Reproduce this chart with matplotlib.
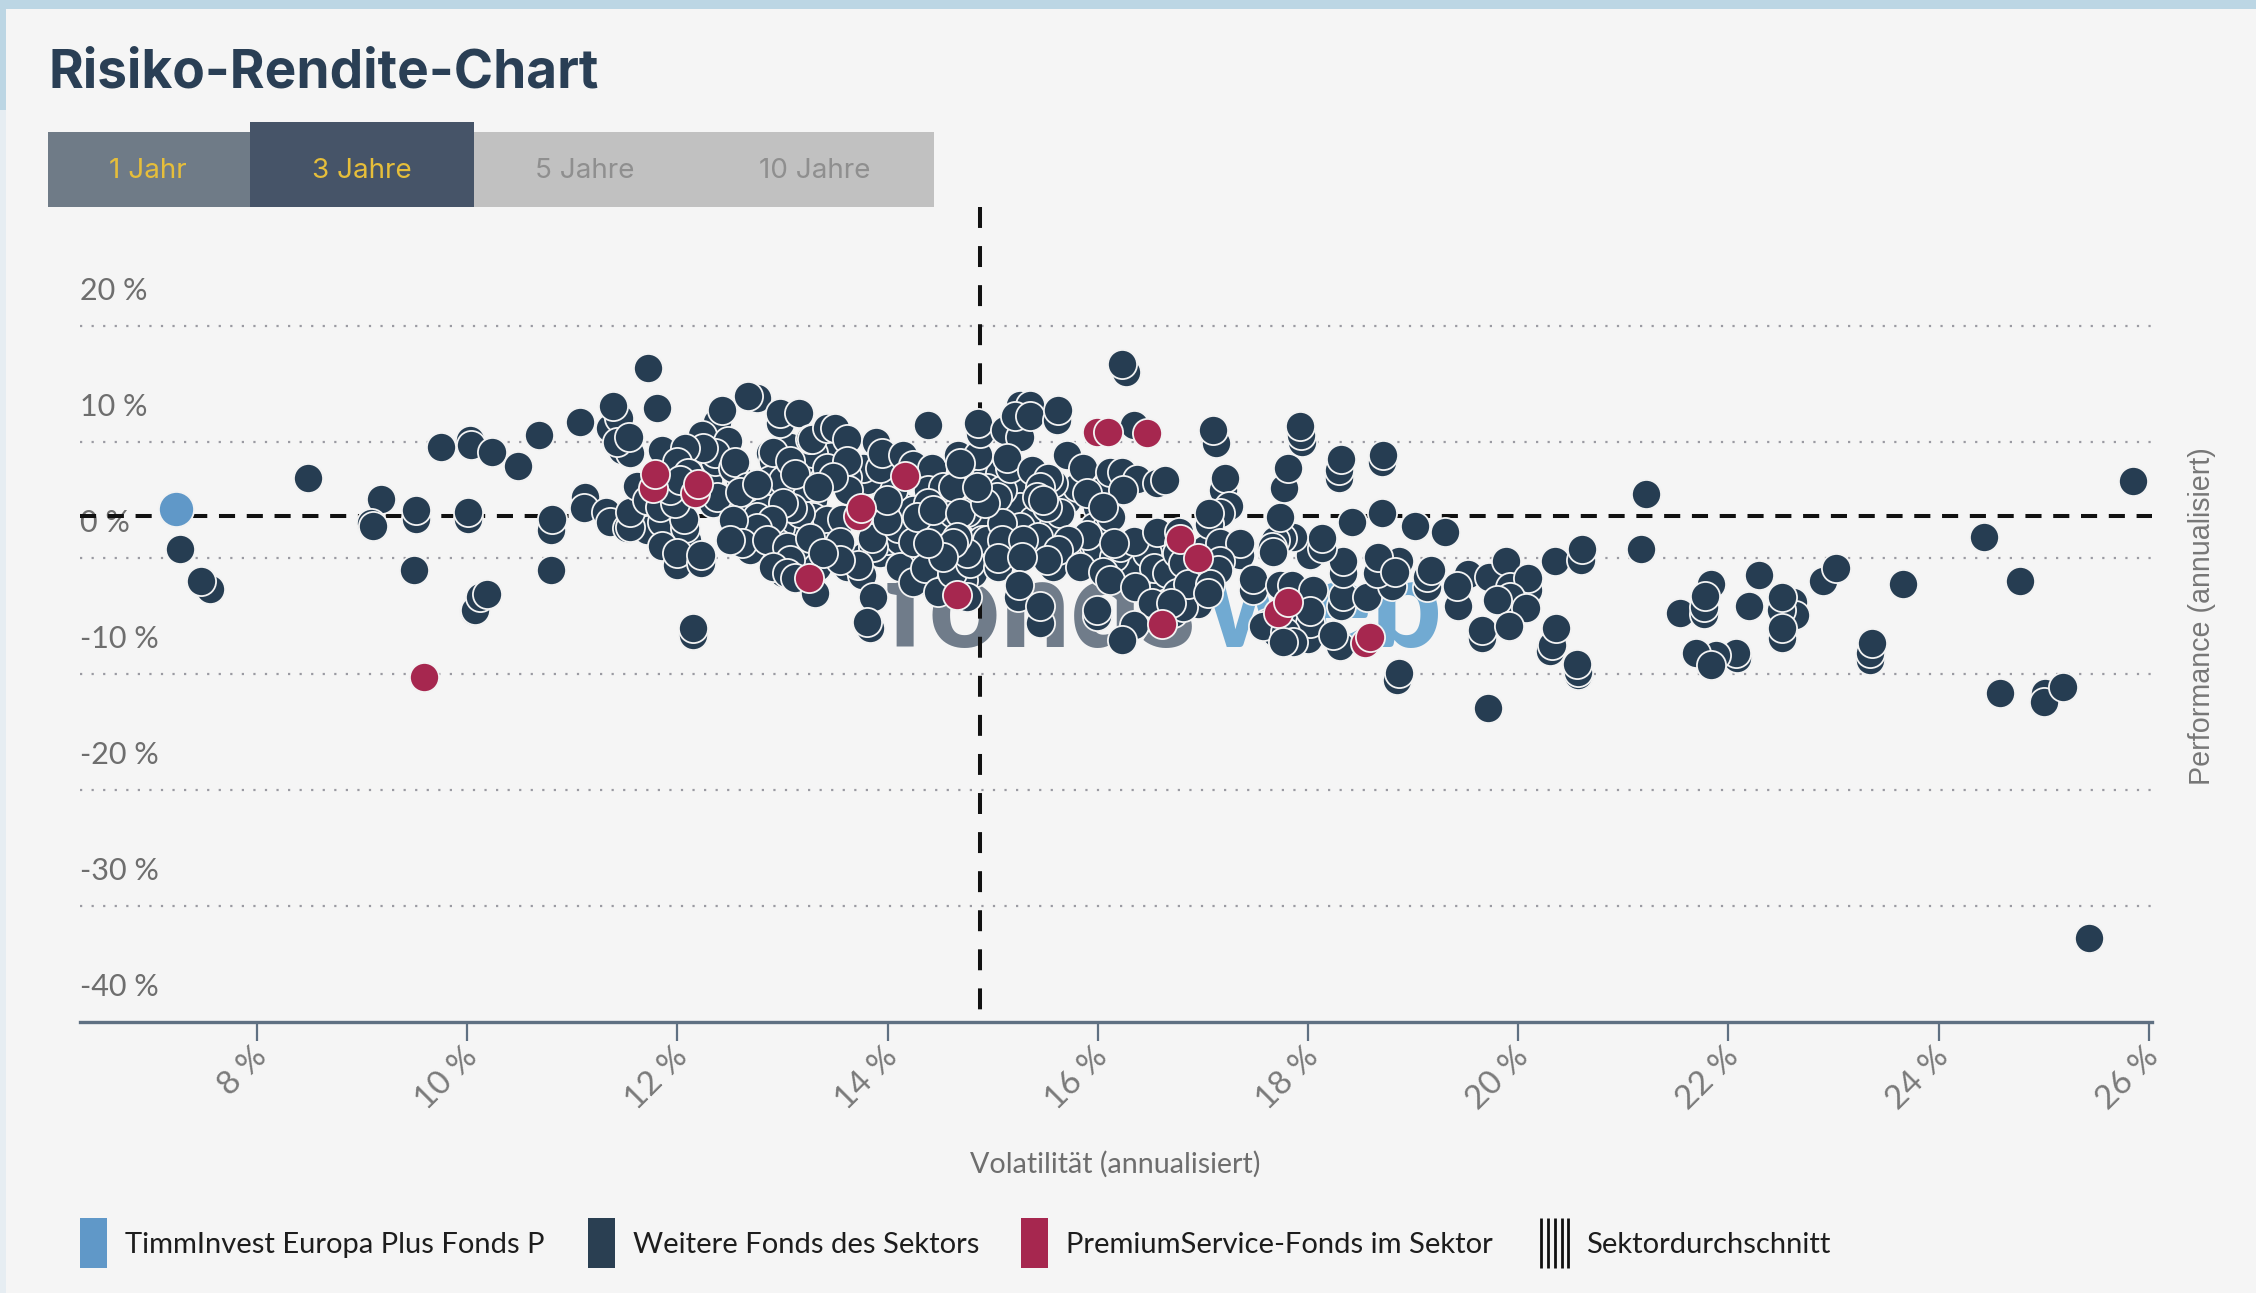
import numpy as np
import matplotlib
matplotlib.use('Agg')
import matplotlib.pyplot as plt
from matplotlib.patches import Rectangle
from matplotlib.transforms import ScaledTranslation

W, H = 2256, 1293

# Values: volatility %, performance %
vol_fund = [7.23]
perf_fund = [4.2]

vol_premium = [9.59, 11.77, 11.79, 12.17, 12.2, 13.25, 13.72, 13.75, 14.17, 14.66, 15.99, 16.1, 16.47,
               16.61, 16.78, 16.95, 17.71, 17.81, 18.54, 18.59]
perf_premium = [-10.3, 6.0, 7.2, 5.6, 6.4, -1.7, 3.6, 4.3, 7.1, -3.2, 10.9, 10.9, 10.8,
                -5.7, 1.6, 0.0, -4.7, -3.8, -7.3, -6.8]

# inner part of the dense cluster, sits underneath the rest
vol_under = [13.17, 13.29, 13.17, 13.29, 13.42, 13.1, 12.98, 12.85, 12.76, 12.95, 13.17, 13.42, 13.33, 12.95,
             13.0, 13.61, 13.77, 13.93, 13.99, 14.12, 14.15, 14.05, 13.93, 13.8, 13.77, 13.93, 13.61, 13.17,
             12.98, 12.85, 12.88, 13.07, 13.48, 13.42, 14.31, 14.43, 14.56, 14.5, 14.62, 14.88, 14.9, 14.88,
             14.81, 14.72, 14.95, 14.53, 14.12, 14.18, 14.95, 15.07, 15.23, 15.26, 15.38, 15.26, 15.57, 15.71,
             15.8, 15.57, 15.64, 15.99, 16.05, 15.96, 16.09, 15.83, 15.99, 15.38, 15.52, 15.71, 15.57, 16.31,
             16.15, 16.21, 16.59, 16.68, 16.47, 16.72, 16.81, 16.88, 16.59, 16.66, 11.67, 11.77, 11.96, 11.96,
             11.83, 12.09, 11.71, 11.98, 12.22, 12.29, 12.36, 12.6, 12.47, 12.66, 12.53, 12.81, 12.76, 12.95,
             13.17, 13.23, 13.29, 12.91, 12.88, 13.0, 13.17, 13.29, 16.95, 17.0, 16.98, 16.95, 17.02, 17.1,
             17.9, 17.95, 17.7, 17.9, 18.0]
perf_under = [5.0, 5.0, 3.3, 3.5, 3.3, 1.55, 2.7, 3.3, 1.8, 0.7, 0.4, 0.95, -0.8, -0.4,
              -1.3, -0.8, 0.1, 0.4, 1.55, 1.55, 4.4, 5.9, 6.5, 6.7, 7.8, 7.8, 7.0, 6.5,
              6.5, 5.9, 9.05, 9.6, 9.9, 9.05, 0.4, 1.55, 1.55, 3.3, 3.9, 3.5, 1.55, 0.4,
              -1.3, -1.9, 1.55, -1.3, -0.8, 3.3, 7.3, 7.3, 6.1, 4.4, 3.3, 2.7, 2.7, 5.0,
              6.1, 6.5, 3.9, 4.4, 5.9, 2.7, 2.7, 1.55, 0.95, 0.95, 0.7, 0.1, -0.8, -0.4,
              0.1, 0.95, 1.55, 0.1, 0.4, -1.6, 0.1, -3.0, -3.0, -3.9, 4.4, 4.1, 4.1, 1.8,
              1.8, 1.55, 2.4, 7.3, 7.6, 6.7, 8.4, 6.7, 4.4, 3.9, 3.9, 5.3, 3.5, 1.3,
              3.9, 6.1, 7.3, 8.4, 6.7, 6.7, 8.2, 9.05, -0.5, -1.5, -3.0, -4.0, 0.8, -1.2,
              -3.0, -5.5, -6.5, -5.9, -7.0]

# sparse left side
vol_left = [8.49, 7.27, 7.55, 7.47, 9.18, 9.08, 9.10, 9.51, 9.51, 9.49, 9.75, 10.03, 10.04, 10.24, 10.48,
            10.68, 10.01, 10.01, 10.06, 10.07, 10.12, 10.19, 10.80, 10.81, 10.80, 11.07, 11.12, 11.11, 11.32,
            11.36, 11.52, 11.55, 11.55]
perf_left = [6.9, 0.8, -2.7, -2.0, 5.1, 3.0, 2.8, 3.4, 4.1, -1.0, 9.6, 10.2, 9.7, 9.1, 7.9,
             10.6, 3.4, 4.0, -4.6, -4.5, -3.4, -3.1, 2.4, 3.4, -1.0, 11.7, 5.3, 4.3, 4.0,
             3.1, 2.6, 2.7, 4.0]

# cluster, 11.3 to 13.2 %
vol_a = [11.72, 11.36, 11.44, 11.39, 11.81, 11.47, 11.55, 11.43, 11.54, 11.85, 12.38, 12.42, 12.23, 12.48,
         12.36, 12.24, 12.07, 12.76, 12.67, 12.98, 12.98, 13.16, 13.26, 12.91, 13.07, 12.53, 12.55, 13.12,
         12.0, 12.10, 11.62, 12.34, 12.38, 12.66, 12.6, 12.76, 13.09, 13.0, 12.9, 12.76, 12.53, 12.69, 12.61,
         12.5, 12.85, 13.04, 13.26, 13.07, 12.91, 13.04, 13.12, 13.31, 11.85, 12.07, 12.06, 11.85, 12.0,
         12.0, 12.22, 12.22, 12.15, 12.15, 11.71, 11.83, 11.98, 11.93, 12.02]
perf_a = [16.4, 11.2, 12.1, 13.1, 12.9, 9.3, 9.05, 10.0, 10.4, 9.3, 11.7, 12.8, 10.6, 10.1,
          9.05, 9.5, 9.5, 13.8, 14.0, 11.6, 12.5, 12.5, 10.3, 9.1, 8.4, 7.8, 8.3, 7.2,
          8.3, 7.3, 6.2, 4.7, 5.3, 6.1, 5.7, 6.4, 4.3, 4.7, 3.3, 2.6, 3.3, 0.7, 1.3,
          1.55, 1.55, 0.95, 1.7, -0.2, -0.8, -1.3, -1.7, -3.0, 3.1, 2.6, 3.4, 1.0, -0.6,
          0.4, -0.4, 0.3, -6.6, -6.0, 5.0, 4.4, 4.7, 5.9, 6.7]

# cluster, 13.2 to 15.1 %
vol_b = [13.28, 13.42, 13.5, 13.61, 13.42, 13.61, 13.89, 13.95, 14.15, 14.24, 14.42, 13.62, 13.48, 13.34,
         13.57, 13.55, 13.86, 13.85, 13.76, 13.72, 13.55, 13.39, 13.86, 13.83, 13.8, 14.1, 14.24, 14.38,
         14.53, 14.62, 14.24, 14.38, 14.28, 14.43, 14.76, 14.69, 14.24, 14.36, 14.48, 14.61, 14.76, 14.78,
         14.76, 14.66, 14.62, 14.53, 14.38, 13.99, 13.99, 14.38, 14.76, 14.67, 14.86, 14.69, 14.88, 14.86,
         15.12, 14.95, 15.09, 15.04, 15.09, 15.09, 15.05, 15.05, 14.93, 14.85]
perf_b = [10.3, 11.2, 11.2, 10.3, 7.8, 8.4, 10.0, 9.05, 8.9, 8.0, 7.8, 5.9, 7.0, 6.1,
          3.4, 1.4, 0.95, 1.7, -1.5, -0.6, -0.2, 0.4, -3.4, -6.0, -5.5, 2.6, 1.4, 5.9,
          6.1, 6.1, 4.1, 4.7, 3.5, 4.1, 4.0, 3.9, -2.1, -0.9, -2.9, -1.3, -3.4, -0.4,
          0.4, 1.8, 1.3, 0.1, 1.3, 3.3, 5.0, 11.5, 8.7, 8.9, 8.9, 8.2, 10.8, 11.6,
          11.0, 6.0, 5.9, 5.3, 3.0, 1.55, -0.8, 0.0, 4.7, 6.1]

# cluster, 15.1 to 16.9 %
vol_c = [15.26, 15.26, 15.35, 15.21, 15.35, 15.61, 15.62, 15.16, 15.14, 15.37, 15.53, 15.45, 15.42, 15.52,
         15.48, 15.71, 15.86, 15.9, 16.12, 16.23, 16.37, 16.56, 16.64, 16.13, 16.24, 16.05, 15.9, 15.43,
         15.72, 15.62, 15.52, 15.29, 15.28, 15.83, 16.05, 16.12, 16.34, 16.56, 16.53, 16.35, 16.15, 16.52,
         16.34, 16.23, 15.99, 15.99, 15.24, 15.25, 15.45, 15.45, 16.34, 16.27, 16.23, 16.66, 16.75, 16.88,
         16.72, 16.81, 16.77, 16.77, 16.75, 16.81, 16.86, 16.7]
perf_c = [10.4, 13.2, 13.2, 12.2, 12.2, 11.9, 12.8, 7.8, 8.6, 7.6, 6.9, 6.1, 5.3, 4.4,
          5.0, 8.9, 7.8, 5.6, 7.4, 7.4, 6.8, 6.5, 6.7, 3.5, 5.9, 4.4, 2.0, 1.8,
          1.55, 0.7, -0.2, 1.55, 0.1, -0.8, -1.2, -1.9, 1.5, 2.2, -0.9, -2.5, 1.3, -3.9,
          -5.8, -7.1, -5.0, -4.5, -3.4, -2.3, -5.6, -4.1, 11.5, 16.0, 16.7, -1.3, -3.0, -1.9,
          -4.7, -4.2, 2.2, 1.3, 0.4, -0.4, -2.2, -3.9]

# 17 to 20.7 %
vol_d = [17.12, 17.1, 17.19, 17.21, 17.25, 17.16, 17.06, 17.06, 17.16, 17.35, 17.35, 17.16, 17.14, 17.07,
         17.05, 17.48, 17.48, 17.73, 17.85, 18.05, 18.02, 18.02, 17.61, 17.57, 17.78, 17.86, 17.76, 18.3,
         18.24, 18.31, 18.33, 18.56, 18.8, 19.13, 19.13, 19.17, 18.33, 18.33, 18.66, 18.87, 18.67, 18.83,
         18.02, 18.13, 18.13, 17.86, 17.75, 17.69, 17.66, 17.67, 17.73, 17.77, 17.81, 18.29, 18.29, 18.31,
         17.94, 17.93, 17.92, 18.7, 18.71, 18.42, 18.7, 19.02, 19.3, 19.52, 19.43, 19.42, 19.72, 19.88,
         19.92, 20.09, 20.09, 19.92, 19.8, 20.07, 19.66, 19.66, 19.91, 19.71, 18.85, 18.87, 20.3, 20.32,
         20.36, 20.57, 20.57, 20.56, 20.35, 20.6, 20.61]
perf_d = [9.9, 11.0, 5.9, 6.9, 4.5, 3.9, 2.9, 3.9, 1.3, 0.3, 1.3, -0.3, -1.0, -2.2,
          -3.0, -2.8, -1.8, -2.3, -2.3, -2.8, -5.6, -4.6, -5.6, -5.9, -6.4, -7.2, -7.2, -7.6,
          -6.6, -4.1, -3.3, -3.4, -2.4, -2.5, -1.6, -1.0, -1.3, -0.3, -1.3, -0.3, 0.1, -1.2,
          0.3, 0.9, 1.7, 1.8, 1.7, 1.55, 0.95, 0.5, 3.5, 6.0, 7.8, 6.9, 7.6, 8.5,
          10.0, 10.6, 11.4, 8.3, 8.9, 3.1, 3.9, 2.8, 2.2, -1.4, -4.1, -2.4, -1.6, -0.3,
          -2.5, -2.8, -1.7, -3.4, -3.6, -4.3, -6.9, -6.2, -5.9, -12.9, -10.5, -9.9, -8.0, -7.5,
          -6.0, -10.1, -9.8, -9.1, -0.3, -0.2, 0.8]

# sparse right side
vol_right = [21.22, 21.17, 21.54, 21.83, 21.77, 21.77, 21.78, 22.29, 22.2, 22.61, 22.63, 22.5, 22.51, 22.51,
             22.51, 22.9, 23.02, 23.66, 23.35, 23.35, 23.37, 22.08, 22.07, 21.88, 21.69, 21.83, 24.43, 24.77,
             25.85, 24.58, 25.01, 25.0, 25.18, 25.43]
perf_right = [5.5, 0.8, -4.7, -2.2, -4.8, -4.2, -3.3, -1.5, -4.1, -3.8, -4.9, -4.5, -6.9, -6.0,
              -3.4, -2.0, -0.9, -2.2, -8.8, -8.2, -7.3, -8.6, -8.2, -8.4, -8.2, -9.2, 1.8, -2.0,
              6.6, -11.6, -11.6, -12.4, -11.1, -32.8]

y_ticks = [20, 10, 0, -10, -20, -30]
y_tick_labels = ['20 %', '10 %', '0 %', '-10 %', '-20 %', '-30 %']
x_ticks = [8, 10, 12, 14, 16, 18, 20, 22, 24, 26]
tab_labels = ['1 Jahr', '3 Jahre', '5 Jahre', '10 Jahre']
sector_vol = 14.88
sector_perf = 3.6

vol_other = vol_under + vol_left + vol_a + vol_b + vol_c + vol_d + vol_right
perf_other = perf_under + perf_left + perf_a + perf_b + perf_c + perf_d + perf_right

NAVY = '#263D52'
RED = '#A6274F'
BLUE = '#6098C8'
GREY = '#6E6E6E'
BG = '#F5F5F5'
FONT = 'Lato'

fig = plt.figure(figsize=(W / 100, H / 100), dpi=100, facecolor='#BCD6E4')

# page layer in pixel coordinates
page = fig.add_axes([0, 0, 1, 1])
page.set_xlim(0, W)
page.set_ylim(H, 0)
page.axis('off')
page.add_patch(Rectangle((6, 9), W - 6, H - 9, color=BG, lw=0))
page.add_patch(Rectangle((0, 110), 6, H - 110, color='#E6EDF2', lw=0))

page.text(49, 88, 'Risiko-Rendite-Chart', fontsize=38.3, fontfamily='Inter', fontweight='bold',
          color='#2A3F55', va='baseline')

page.add_patch(Rectangle((48, 132), 202, 75, color='#6F7B87', lw=0))
page.add_patch(Rectangle((474, 132), 460, 75, color='#C1C1C1', lw=0))
page.add_patch(Rectangle((250, 122), 224, 85, color='#465468', lw=0))
for lab, cx, col in zip(tab_labels, [148, 362, 585, 815], ['#E6BE3A', '#E6BE3A', '#8F8F8F', '#8F8F8F']):
    page.text(cx, 171, lab, fontsize=20, fontfamily='Inter', color=col, ha='center', va='center')

# legend
for x0, x1, col, lab, tx in [(80, 107, BLUE, 'TimmInvest Europa Plus Fonds P', 125),
                             (588, 615, '#2A3F52', 'Weitere Fonds des Sektors', 633),
                             (1021, 1048, '#A6274F', 'PremiumService-Fonds im Sektor', 1066)]:
    page.add_patch(Rectangle((x0, 1218), x1 - x0, 50, color=col, lw=0))
    page.text(tx, 1245, lab, fontsize=21, fontfamily=FONT, color='#1D1D1D', va='center')
for xs in [1541, 1548, 1555, 1562, 1568]:
    page.plot([xs, xs], [1218, 1268], color='#111111', lw=2.0, solid_capstyle='butt')
page.text(1586, 1245, 'Sektordurchschnitt', fontsize=21, fontfamily=FONT, color='#1D1D1D', va='center')

# main plot
ax = fig.add_axes([80 / W, (H - 1022) / H, 2072 / W, 815 / H])
ax.set_xlim(6.316, 26.03)
ax.set_ylim(-40, 30.26)
ax.patch.set_alpha(0)
for s in ['top', 'left', 'right']:
    ax.spines[s].set_visible(False)
ax.spines['bottom'].set_color('#5F7082')
ax.spines['bottom'].set_linewidth(2.4)

ax.set_yticks([])
ax.set_xticks(x_ticks)
ax.set_xticklabels([f'{v} %' for v in x_ticks], rotation=45, ha='right', rotation_mode='anchor',
                    fontsize=24, fontfamily=FONT, color='#7A7A7A')
ax.tick_params(axis='x', length=14, width=1.6, color='#5F7082', pad=0)
for label in ax.get_xticklabels():
    label.set_transform(label.get_transform() + ScaledTranslation(-0.05, 0, fig.dpi_scale_trans))

for v in y_ticks:
    ax.plot([6.316, 26.03], [v, v], color='#9A9AA2', lw=1.6, linestyle=(0, (1, 4.2)), zorder=1)
for v, lab in zip(y_ticks + [-40], y_tick_labels + ['-40 %']):
    ax.annotate(lab, (6.316, v), xytext=(0, 25), textcoords='offset points', fontsize=22,
                fontfamily=FONT, color=GREY, va='center', ha='left', zorder=1)

# watermark
wm = {'fontsize': 89, 'fontfamily': FONT, 'fontweight': 900, 'va': 'baseline'}
ax.annotate('fonds', (885, H - 647), xycoords='figure pixels', color='#707C8A', zorder=1.5, **wm)
ax.annotate('web', (1205, H - 647), xycoords='figure pixels', color='#71AAD2', zorder=1.5, **wm)

ax.plot([sector_vol, sector_vol], [30.26, -40], color='#111111', lw=2.9, linestyle=(0, (5.2, 4.5)), zorder=2)
ax.plot([6.316, 26.03], [sector_perf, sector_perf], color='#111111', lw=2.9, linestyle=(0, (4, 2.9)), zorder=2)

ax.scatter(vol_other, perf_other, s=440, color=NAVY, edgecolors='#F3F3F3', linewidths=1.3, zorder=3, clip_on=False)
ax.scatter(vol_premium, perf_premium, s=440, color=RED, edgecolors='#F3F3F3', linewidths=1.3, zorder=4, clip_on=False)
ax.scatter(vol_fund, perf_fund, s=640, color=BLUE, edgecolors='#F3F3F3', linewidths=1.3, zorder=5, clip_on=False)

page.text(1115, 1164, 'Volatilität (annualisiert)', fontsize=20.6, fontfamily=FONT, color=GREY, ha='center', va='center')
page.text(2202, 616, 'Performance (annualisiert)', fontsize=20.6, fontfamily='Liberation Sans', color='#777777',
          rotation=90, ha='center', va='center')

fig.savefig('out.png', dpi=100, facecolor=fig.get_facecolor())
